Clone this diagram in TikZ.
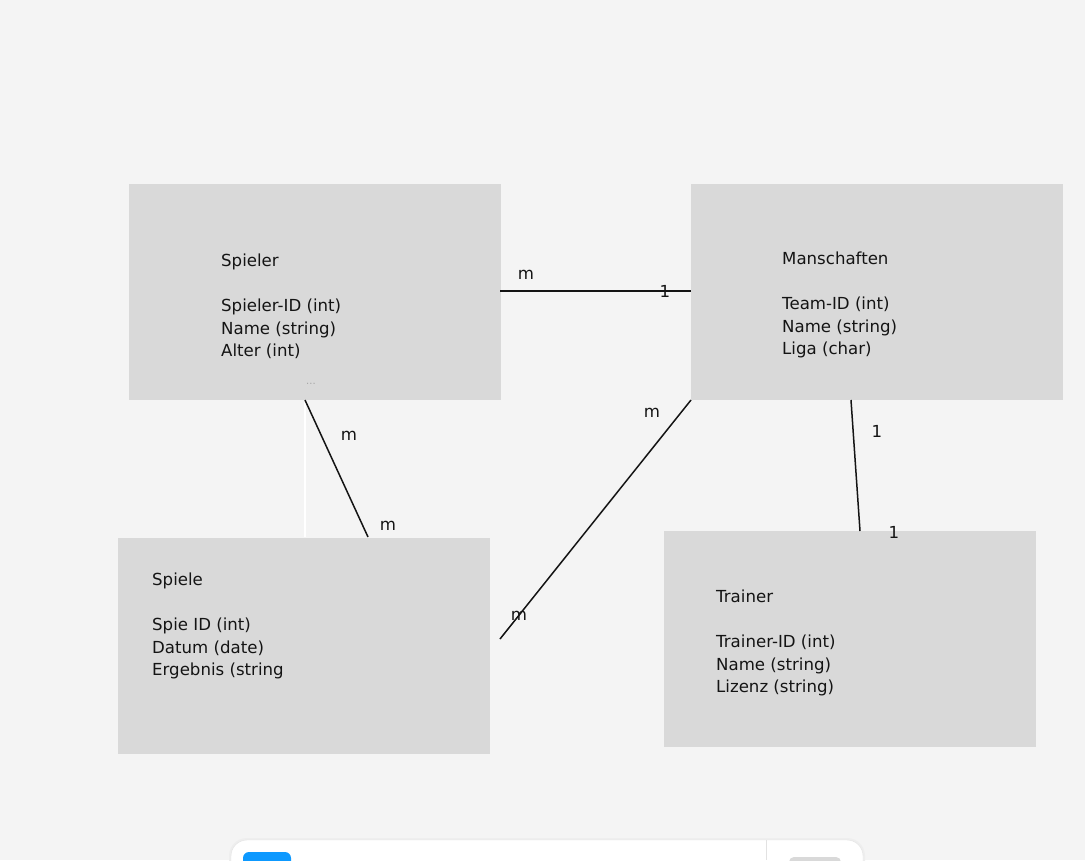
\documentclass[tikz,border=0pt]{standalone}
\usepackage{fontspec}
\setmainfont{DejaVu Sans}
\definecolor{canvas}{HTML}{F4F4F4}
\definecolor{entityfill}{HTML}{D9D9D9}
\definecolor{ink}{HTML}{141414}
\definecolor{barline}{HTML}{E2E2E2}
\definecolor{accent}{HTML}{0D99FF}
\tikzset{
  entity/.style={fill=entityfill, draw=none, inner sep=0pt, anchor=north west},
  attrs/.style={anchor=north west, inner sep=0pt, align=left, text=ink,
    font=\fontsize{16.6}{22.5}\selectfont},
  card/.style={inner sep=0pt, text=ink, font=\fontsize{16.6}{19}\selectfont},
  rel/.style={draw=ink, line width=1.5pt},
}
\begin{document}
\begin{tikzpicture}[x=1pt, y=-1pt]
\useasboundingbox (0,0) rectangle (1085,860);
\fill[canvas] (0,0) rectangle (1085,860);

% entity boxes
\node[entity, minimum width=372pt, minimum height=216pt] (spieler) at (129,184) {};
\node[entity, minimum width=372pt, minimum height=216pt] (mannschaft) at (691,184) {};
\node[entity, minimum width=372pt, minimum height=216pt] (spiele) at (118,538) {};
\node[entity, minimum width=372pt, minimum height=216pt] (trainer) at (664,531) {};

% attribute lists
\node[attrs] (spielerTxt) at (221,254) {Spieler\\[22.5pt]Spieler-ID (int)\\Name (string)\\Alter (int)};
\node[attrs] (mannschaftTxt) at (782,252) {Manschaften\\[22.5pt]Team-ID (int)\\Name (string)\\Liga (char)};
\node[attrs] (spieleTxt) at (152,573) {Spiele\\[22.5pt]Spie ID (int)\\Datum (date)\\Ergebnis (string};
\node[attrs] (trainerTxt) at (716,590) {Trainer\\[22.5pt]Trainer-ID (int)\\Name (string)\\Lizenz (string)};
\node[inner sep=0pt, text=gray!70, font=\fontsize{10}{10}\selectfont] (more) at (311,384) {...};

% connector end points
\coordinate (sA) at (500,291);
\coordinate (mA) at (691,291);
\coordinate (sB) at (305,400);
\coordinate (gB) at (368,537);
\coordinate (mC) at (691,400);
\coordinate (gC) at (500,639);
\coordinate (mD) at (851,400);
\coordinate (tD) at (860,531);
\coordinate (hintTop) at (305,401);
\coordinate (hintBot) at (305,537);

% relationships
\draw[white, line width=1.5pt] (hintTop) -- (hintBot);
\draw[rel] (sA) -- (mA);
\draw[rel] (sB) -- (gB);
\draw[rel] (mC) -- (gC);
\draw[rel] (mD) -- (tD);

% cardinalities
\node[card] (c1) at (526,275) {m};
\node[card] (c2) at (665,291) {1};
\node[card] (c3) at (349,436) {m};
\node[card] (c4) at (388,526) {m};
\node[card] (c5) at (652,413) {m};
\node[card] (c6) at (519,616) {m};
\node[card] (c7) at (877,431) {1};
\node[card] (c8) at (894,532) {1};

% toolbar peeking in at the bottom
\begin{scope}
\clip (0,0) rectangle (1085,860);
\fill[barline!60, rounded corners=18pt] (229,838) rectangle (865,900);
\filldraw[fill=white, draw=barline, rounded corners=16pt] (231,840) rectangle (863,900);
\fill[accent, rounded corners=6pt] (243,852) rectangle (291,900);
\draw[barline, line width=1pt] (766,840) -- (766,860);
\fill[gray!30, rounded corners=5pt] (789,857) rectangle (841,880);
\end{scope}
\end{tikzpicture}
\end{document}
